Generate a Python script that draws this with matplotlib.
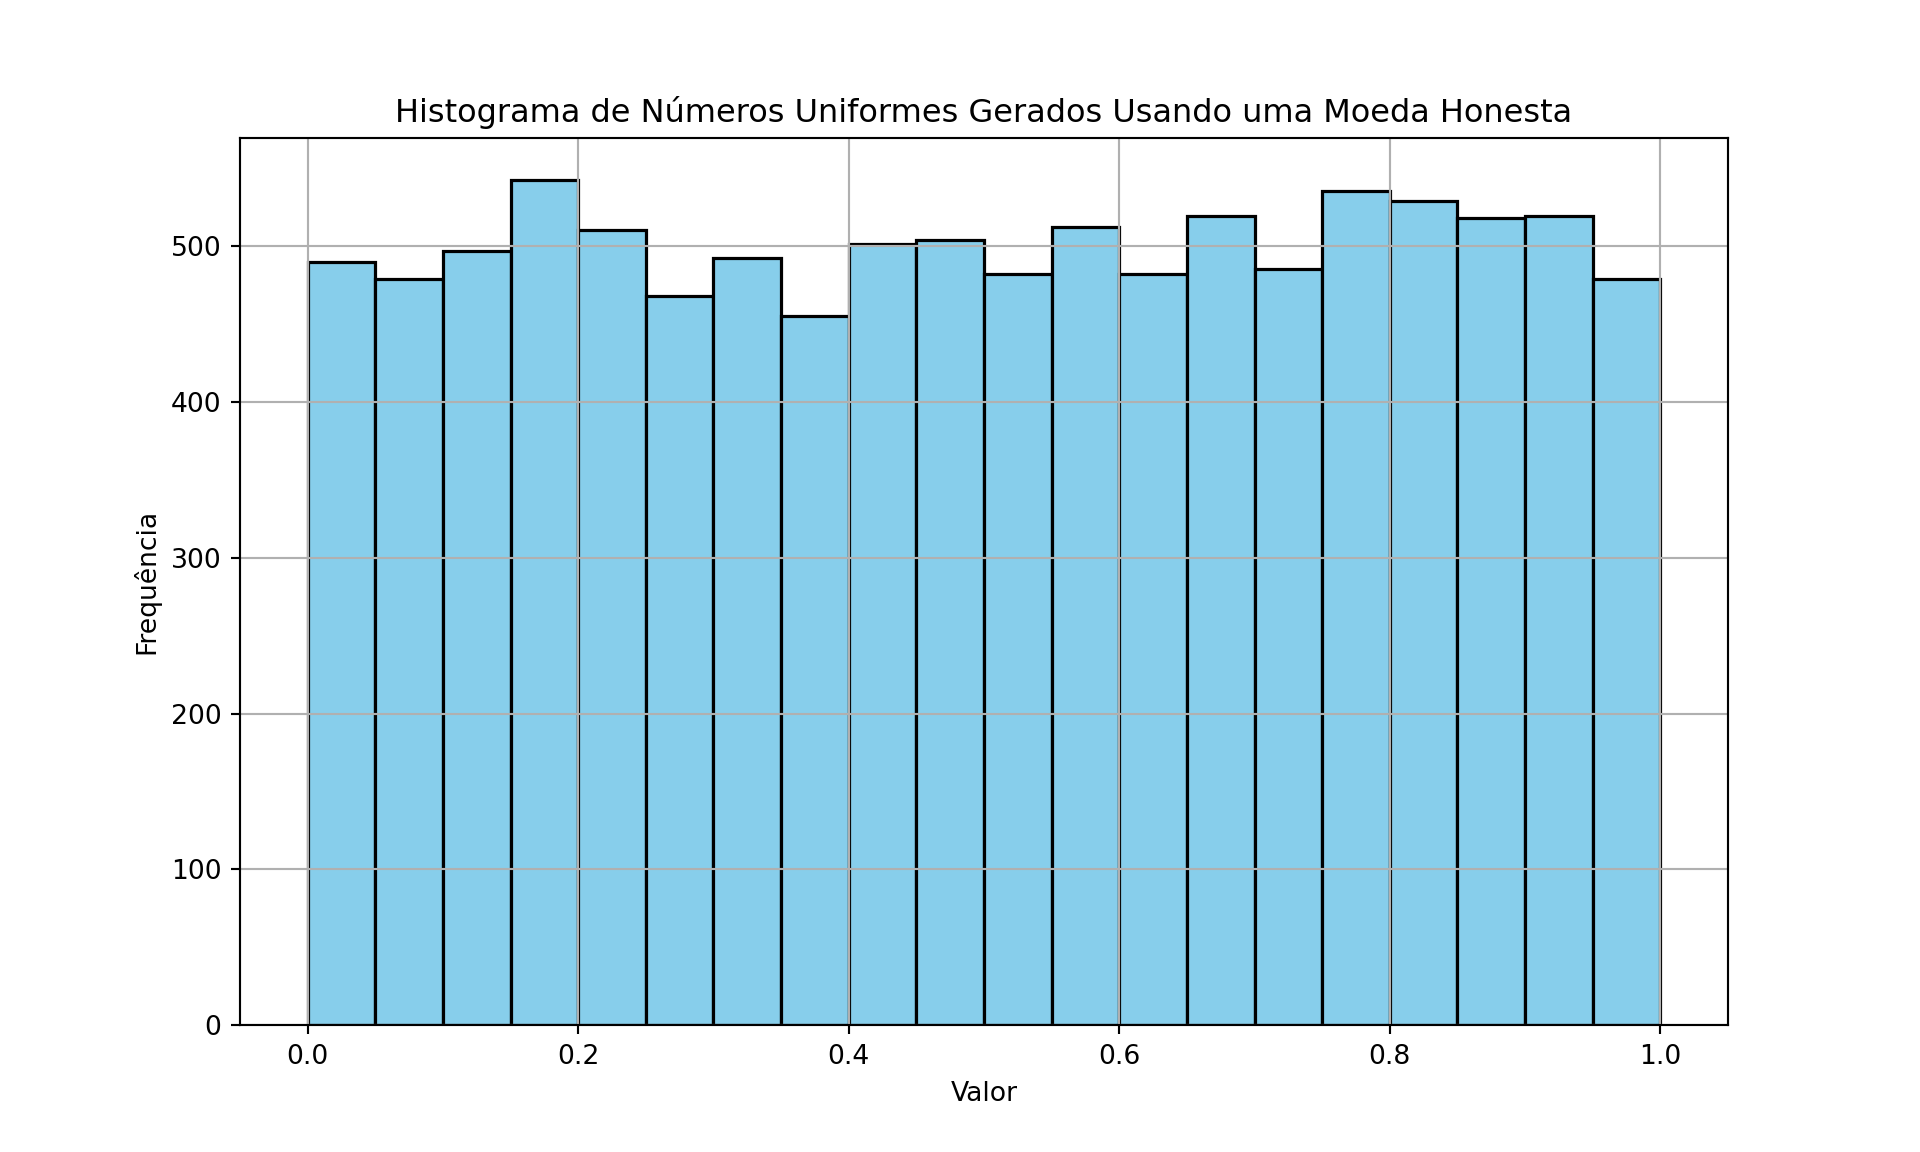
import numpy as np
import matplotlib.pyplot as plt

bin_edges = np.linspace(0, 1, 21)
contagens = [490, 479, 497, 542, 510, 468, 492, 455, 501, 504,
             482, 512, 482, 519, 485, 535, 529, 518, 519, 479]

centros = (bin_edges[:-1] + bin_edges[1:]) / 2

fig = plt.figure(figsize=(10, 6), dpi=192)
plt.hist(centros, bins=bin_edges, weights=contagens, color='skyblue', edgecolor='black', linewidth=1.2)
plt.title('Histograma de Números Uniformes Gerados Usando uma Moeda Honesta')
plt.xlabel('Valor')
plt.ylabel('Frequência')
plt.grid(True)

plt.savefig('out.png')
